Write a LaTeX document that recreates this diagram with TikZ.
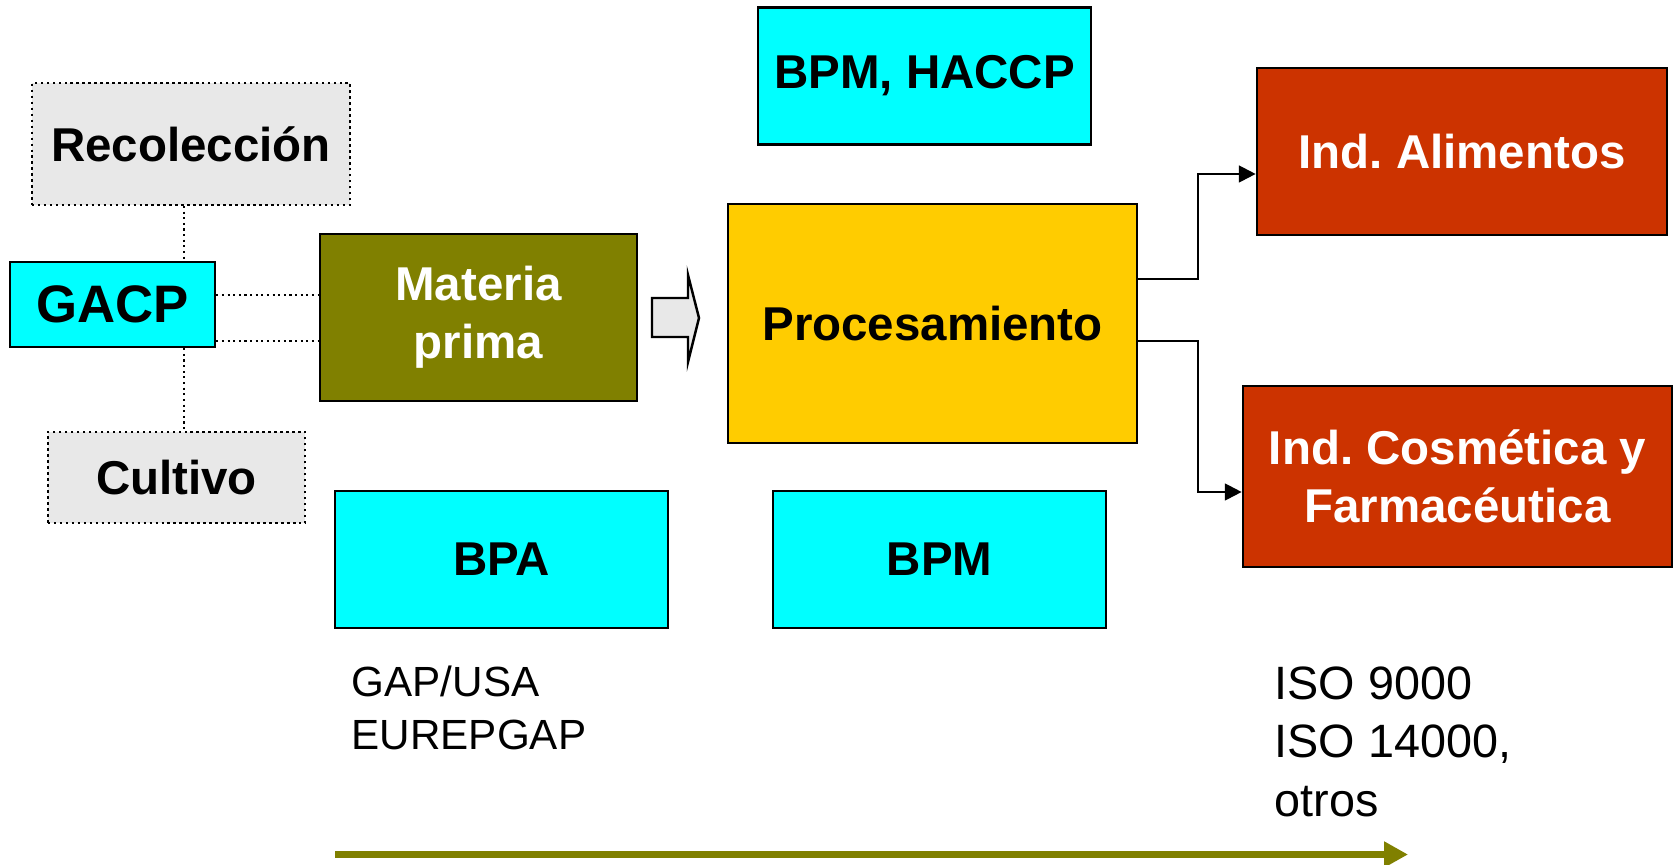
\documentclass[tikz,border=0pt]{standalone}
\usepackage{fontspec}
\setmainfont{Liberation Sans}
\usepackage{xcolor}
\usetikzlibrary{arrows.meta}
\frenchspacing

\definecolor{celeste}{HTML}{00FFFF}
\definecolor{oliva}{HTML}{808000}
\definecolor{dorado}{HTML}{FFCC00}
\definecolor{ladrillo}{HTML}{CC3300}
\definecolor{grisclaro}{HTML}{E8E8E8}

\begin{document}
\begin{tikzpicture}[x=0.01cm, y=-0.01cm,
    caja/.style={draw, line width=0.7pt, align=center, inner sep=0pt,
                 font=\fontsize{13.5}{16.6}\selectfont\bfseries},
    norma/.style={caja, fill=celeste, minimum width=3.33cm, minimum height=1.37cm},
    etapa/.style={caja, densely dotted, line width=0.5pt, fill=grisclaro},
    industria/.style={caja, fill=ladrillo, text=white},
    punteada/.style={densely dotted, line width=0.6pt},
    flecha/.style={line width=0.6pt, -{Triangle[length=4.8pt,width=4.8pt]}}]

    \useasboundingbox (0,0) rectangle (1674,865);

    % Nodes (pixel coordinates, y going down)
    \node[etapa, minimum width=3.18cm, minimum height=1.22cm] (reco) at (191,144) {Recolección};
    \node[caja, fill=celeste, minimum width=2.05cm, minimum height=0.85cm,
          font=\fontsize{15}{18}\selectfont\bfseries] (gacp) at (112.5,304.5) {GACP};
    \node[etapa, minimum width=2.57cm, minimum height=0.91cm] (cult) at (176.5,477.5) {Cultivo};
    \node[caja, fill=oliva, text=white, minimum width=3.17cm, minimum height=1.67cm] (mp) at (478.5,317.5) {Materia\\prima};
    \node[caja, fill=dorado, minimum width=4.09cm, minimum height=2.39cm] (proc) at (932.5,323.5) {Procesamiento};
    \node[norma] (haccp) at (924.5,76) {BPM, HACCP};
    \node[industria, minimum width=4.10cm, minimum height=1.67cm] (alim) at (1462,151.5) {Ind. Alimentos};
    \node[industria, minimum width=4.29cm, minimum height=1.81cm] (cosm) at (1457.5,476.5) {Ind. Cosmética y\\Farmacéutica};
    \node[norma] (bpa) at (501.5,559.5) {BPA};
    \node[norma] (bpm) at (939.5,559.5) {BPM};

    % Notes under the boxes
    \node[anchor=north west, align=left, inner sep=0pt,
          font=\fontsize{12}{15}\selectfont] (gap) at (351,665) {GAP/USA\\EUREPGAP};
    \node[anchor=north west, align=left, inner sep=0pt,
          font=\fontsize{13.3}{16.6}\selectfont] (iso) at (1274,666) {ISO 9000\\ISO 14000,\\otros};

    % Dotted links around GACP
    \coordinate (eje) at ([shift={(-32,0)}]gacp.north east);
    \draw[punteada] (eje |- reco.south) -- (eje |- gacp.north);
    \draw[punteada] (eje |- gacp.south) -- (eje |- cult.north);
    \coordinate (nivel1) at ([shift={(0,-9.5)}]gacp.east);
    \coordinate (nivel2) at ([shift={(0,36.5)}]gacp.east);
    \draw[punteada] (nivel1) -- (nivel1 -| mp.west);
    \draw[punteada] (nivel2) -- (nivel2 -| mp.west);

    % Block arrow between raw material and processing
    \draw[fill=grisclaro, line width=0.7pt] (652,298) -- (688,298) -- (688,275) -- (699,318)
        -- (688,362) -- (688,337) -- (652,337) -- cycle;

    % Edges to the industries
    \draw[flecha] ([shift={(0,-44.5)}]proc.east) -- ++(60,0) |- ([shift={(0,22.5)}]alim.west);
    \draw[flecha] ([shift={(0,17.5)}]proc.east) -- ++(60,0) |- ([shift={(0,15.5)}]cosm.west);

    % Long olive arrow at the bottom
    \coordinate (inicio) at (335,854.5);
    \coordinate (final) at (1408,854.5);
    \draw[oliva, line width=2.2pt, -{Triangle[length=6.8pt,width=7pt]}] (inicio) -- (final);

\end{tikzpicture}
\end{document}
